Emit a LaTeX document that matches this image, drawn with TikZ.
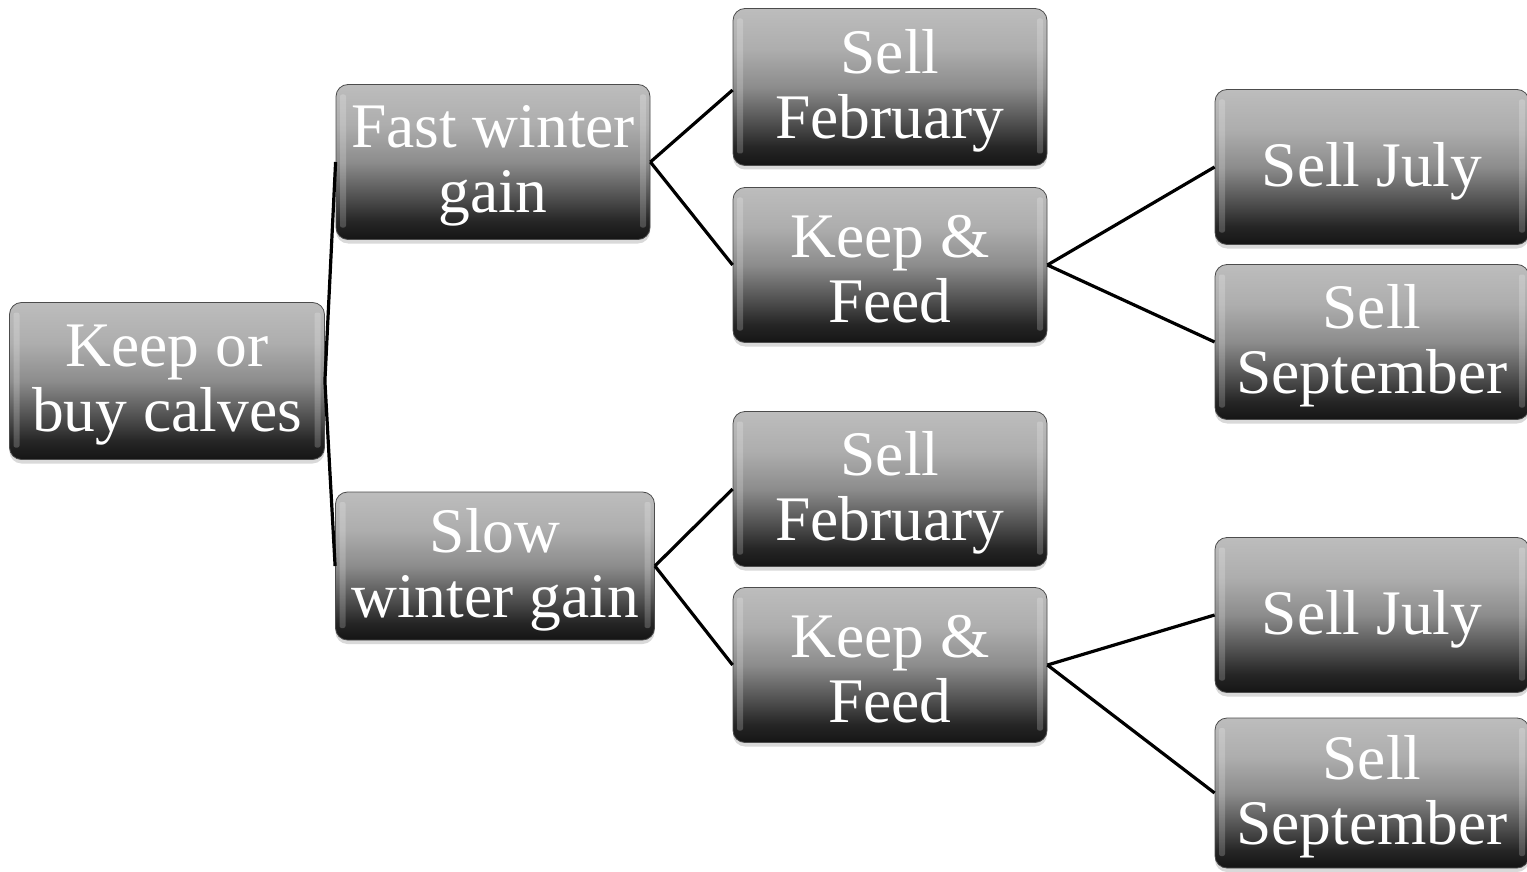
\documentclass[tikz,border=0pt]{standalone}
\usepackage{fontspec}
\setmainfont{Liberation Serif}
\usetikzlibrary{shadows}
\pgfdeclareverticalshading{glossy}{100bp}{color(0bp)=(black!92); color(25bp)=(black!92); color(31bp)=(black!85); color(38bp)=(black!70); color(50bp)=(black!45); color(62bp)=(black!32); color(75bp)=(black!26); color(100bp)=(black!26)}
\begin{document}
\begin{tikzpicture}[x=1pt,y=-1pt,
  box/.style={rounded corners=12pt, shading=glossy, draw=black!70, line width=0.8pt,
    minimum width=314pt, minimum height=155pt, inner sep=0pt,
    drop shadow={shadow xshift=0pt, shadow yshift=-4pt, opacity=0.3},
    path picture={
      \fill[white,opacity=0.2,rounded corners=2pt]
        ([xshift=4pt,yshift=-10pt]path picture bounding box.north west) rectangle
        ([xshift=10pt,yshift=12pt]path picture bounding box.south west);
      \fill[white,opacity=0.2,rounded corners=2pt]
        ([xshift=-4pt,yshift=-10pt]path picture bounding box.north east) rectangle
        ([xshift=-10pt,yshift=12pt]path picture bounding box.south east);
    }},
  lbl/.style={text=white, align=center, font=\fontsize{63.5}{65}\selectfont, inner sep=0pt, yshift=-4pt},
  link/.style={line width=3.2pt, black}]
\useasboundingbox (0,0) rectangle (1527,872);
\node[box, minimum width=315pt, minimum height=157pt, label={[lbl]center:Keep or\\buy calves}] (root) at (167,381) {};
\node[box, label={[lbl]center:Fast winter\\gain}] (fast) at (493,162) {};
\node[box, minimum width=319pt, minimum height=148pt, label={[lbl]center:Slow\\winter gain}] (slow) at (495,566) {};
\node[box, minimum height=157pt, label={[lbl]center:Sell\\February}] (feb1) at (890,87) {};
\node[box, label={[lbl]center:Keep \&\\Feed}] (keep1) at (890,265) {};
\node[box, label={[lbl]center:Sell\\February}] (feb2) at (890,489) {};
\node[box, label={[lbl]center:Keep \&\\Feed}] (keep2) at (890,665) {};
\node[box, label={[lbl]center:Sell July}] (jul1) at (1372,167) {};
\node[box, label={[lbl]center:Sell\\September}] (sep1) at (1372,342) {};
\node[box, label={[lbl]center:Sell July}] (jul2) at (1372,615) {};
\node[box, minimum height=150pt, label={[lbl]center:Sell\\September}] (sep2) at (1372,793) {};
\draw[link] (root.east) -- (fast.west);
\draw[link] (root.east) -- (slow.west);
\draw[link] (fast.east) -- ([yshift=-3pt]feb1.west);
\draw[link] (fast.east) -- (keep1.west);
\draw[link] (slow.east) -- (feb2.west);
\draw[link] (slow.east) -- (keep2.west);
\draw[link] (keep1.east) -- (jul1.west);
\draw[link] (keep1.east) -- (sep1.west);
\draw[link] (keep2.east) -- (jul2.west);
\draw[link] (keep2.east) -- (sep2.west);
\end{tikzpicture}
\end{document}
